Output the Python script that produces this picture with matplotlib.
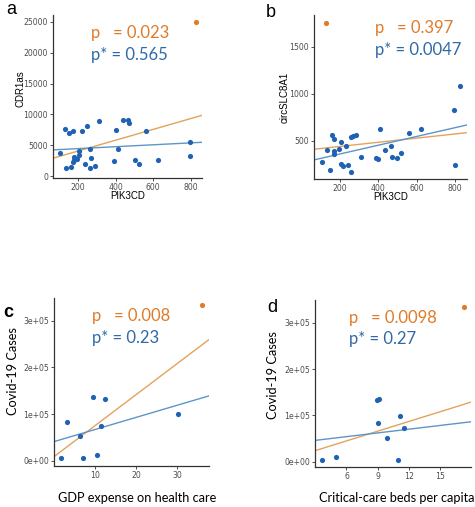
import numpy as np
from matplotlib import pyplot as plt

# panel a / b: PIK3CD vs circRNA
pik_a = [106, 133, 154, 173, 138, 163, 173, 181, 178, 196, 205, 207, 221, 248, 262, 269, 239, 262, 290,
         313, 402, 411, 389, 437, 465, 473, 563, 501, 524, 623, 796, 796]
cdr1as = [3670, 7710, 7020, 7290, 1330, 1440, 2300, 3030, 2600, 2700, 3400, 4100, 7340, 8140, 4360, 2930,
          2020, 1330, 1600, 8990, 7550, 4360, 2390, 9040, 9040, 8620, 7290, 2550, 1910, 2610, 5590, 3250]
out_a = (827, 25000)
fit_a_all = (2310, 8.78)     # intercept, slope (orange)
fit_a_rob = (4150, 1.55)     # blue

pik_b = [105, 134, 148, 160, 171, 171, 171, 195, 205, 205, 214, 241, 234, 257, 260, 269, 286, 309, 389,
         399, 408, 434, 464, 469, 499, 520, 560, 620, 795, 797, 824]
slc8a1 = [281, 401, 193, 564, 518, 398, 362, 412, 493, 253, 239, 246, 447, 171, 539, 553, 567, 327, 316,
          306, 624, 408, 443, 334, 320, 369, 581, 624, 829, 249, 1083]
out_b = (127, 1751)
fit_b_all = (398, 0.221)
fit_b_rob = (269, 0.466)

# panel c / d: covid cases
gdp = [1.7, 3.1, 6.3, 7.0, 9.6, 10.6, 11.5, 12.5, 30.2]
cases_c = [5000, 83800, 53000, 5000, 136000, 11500, 74500, 133200, 100200]
out_c = (36.0, 333700)
fit_c_all = (8600, 6640)
fit_c_rob = (40800, 2595)

beds = [3.68, 4.97, 8.95, 9.1, 9.06, 9.87, 11.0, 11.16, 11.58]
cases_d = [4300, 10100, 132400, 135500, 82700, 51100, 4300, 99300, 73400]
out_d = (17.3, 333800)
fit_d_all = (2930, 6993)
fit_d_rob = (38040, 2681)

p_txt = ["p   = 0.023", "p   = 0.397", "p   = 0.008", "p   = 0.0098"]
ps_txt = ["p* = 0.565", "p* = 0.0047", "p* = 0.23", "p* = 0.27"]

ORANGE = '#E07B2A'
BLUE_T = '#2F6AA6'
BLUE_P = '#1F62B3'
ORANGE_L = '#E3A25C'
BLUE_L = '#5E95C8'
W, H = 475, 507

fig = plt.figure(figsize=(W / 100, H / 100), dpi=100)


def px(x, y):
    return x / W, 1 - y / H


def box(x0, y0, x1, y1):
    return [x0 / W, 1 - y1 / H, (x1 - x0) / W, (y1 - y0) / H]


def panel(rect, xs, ys, out, fa, fr, xlim, ylim, xticks, yticks, ytl):
    ax = fig.add_axes(rect)
    xx = np.array(xlim)
    ax.plot(xx, fa[0] + fa[1] * xx, color=ORANGE_L, lw=1)
    ax.plot(xx, fr[0] + fr[1] * xx, color=BLUE_L, lw=1)
    ax.scatter(xs, ys, s=14, color=BLUE_P, zorder=3, linewidths=0)
    ax.scatter([out[0]], [out[1]], s=14, color=ORANGE, zorder=3, linewidths=0)
    ax.set_xlim(xlim)
    ax.set_ylim(ylim)
    ax.set_xticks(xticks)
    ax.set_yticks(yticks)
    ax.set_yticklabels(ytl)
    for s in ['top', 'right']:
        ax.spines[s].set_visible(False)
    for s in ['left', 'bottom']:
        ax.spines[s].set_color('#333333')
        ax.spines[s].set_linewidth(0.9)
    ax.tick_params(labelsize=5.6, labelcolor='#4D4D4D', color='#333333', length=2, width=0.6, pad=1.6)
    return ax


yt_a = [0, 5000, 10000, 15000, 20000, 25000]
panel(box(53, 15, 202, 178), pik_a, cdr1as, out_a, fit_a_all, fit_a_rob, (67, 859), (-300, 26100),
      [200, 400, 600, 800], yt_a, [str(v) for v in yt_a])
yt_b = [500, 1000, 1500]
panel(box(314, 15, 467, 179), pik_b, slc8a1, out_b, fit_b_all, fit_b_rob, (65, 861), (97, 1836),
      [200, 400, 600, 800], yt_b, [str(v) for v in yt_b])
yt_c = [0, 100000, 200000, 300000]
ytl_c = ['0e+00', '1e+05', '2e+05', '3e+05']
panel(box(54, 298, 209, 466), gdp, cases_c, out_c, fit_c_all, fit_c_rob, (0, 37.8), (-11460, 348700),
      [10, 20, 30], yt_c, ytl_c)
panel(box(315, 300, 471, 467), beds, cases_d, out_d, fit_d_all, fit_d_rob, (2.97, 18.0), (-11500, 349600),
      [6, 9, 12, 15], yt_c, ytl_c)

# annotations
pos_p = [(91, 38, 60), (375, 33, 55), (92, 321, 343), (349, 323, 344)]
for (x, y1, y2), t1, t2 in zip(pos_p, p_txt, ps_txt):
    fig.text(*px(x, y1), t1, color=ORANGE, fontsize=12, family='Lato', va='baseline')
    fig.text(*px(x, y2), t2, color=BLUE_T, fontsize=12, family='Lato', va='baseline')

for (x, y), t in zip([(6, 14), (266, 17), (3, 317), (267, 312)], ['a', 'b', 'c', 'd']):
    fig.text(*px(x, y), t, fontsize=13, fontweight='bold' if t == 'c' else 'normal',
             family='Liberation Sans', va='baseline')

lab = dict(fontsize=7, family='Liberation Sans', ha='center')
fig.text(*px(20, 89), 'CDR1as', rotation=90, va='center', **lab)
fig.text(*px(128, 191), 'PIK3CD', va='top', **lab)
fig.text(*px(285, 97), 'circSLC8A1', rotation=90, va='center', **lab)
fig.text(*px(391, 192.5), 'PIK3CD', va='top', **lab)

lab2 = dict(fontsize=9.2, family='Lato', ha='center', va='center')
fig.text(*px(13, 371), 'Covid-19 Cases', rotation=90, **lab2)
fig.text(*px(137, 498), 'GDP expense on health care', **lab2)
fig.text(*px(273, 375), 'Covid-19 Cases', rotation=90, **lab2)
fig.text(*px(397, 498), 'Critical-care beds per capita', **lab2)

fig.savefig('out.png', dpi=100)
